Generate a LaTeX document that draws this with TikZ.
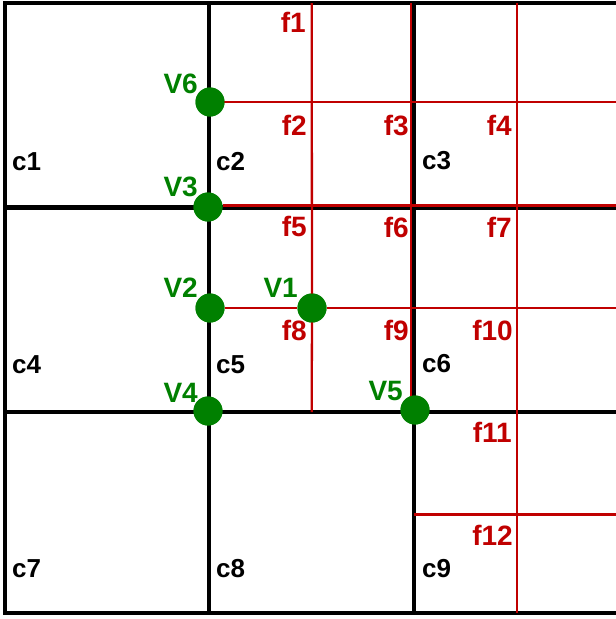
\documentclass[tikz,border=0pt]{standalone}
\usepackage{fontspec}
\setmainfont{Liberation Sans}
\definecolor{gridred}{RGB}{192,0,0}
\definecolor{dotgreen}{RGB}{0,128,0}
\begin{document}
\begin{tikzpicture}[x=1pt,y=-1pt,
  wall/.style={line width=4.5pt, draw=black},
  face/.style={line width=2.3pt, draw=gridred},
  vtx/.style={circle, fill=dotgreen, minimum size=29pt, inner sep=0pt},
  lbl/.style={inner sep=0pt, font=\fontsize{28}{32}\selectfont\bfseries},
  cl/.style={inner sep=0pt, font=\fontsize{26}{30}\selectfont\bfseries, anchor=base west, text=black},
  fl/.style={lbl, anchor=base east, text=gridred},
  vl/.style={lbl, anchor=base east, text=dotgreen}]
\useasboundingbox (0,0) rectangle (616,619);
% black cell walls
\draw[wall, line join=miter] (616,3) -- (5,3) -- (5,613) -- (616,613);
\draw[wall] (209,3) -- (209,613);
\draw[wall] (414,3) -- (414,613);
\draw[wall] (5,207.5) -- (616,207.5);
\draw[wall] (5,412) -- (616,412);
% vertices
\node[vtx] (V6) at (210,102) {};
\node[vtx] (V3) at (208,207) {};
\node[vtx] (V2) at (210,308) {};
\node[vtx] (V1) at (312,308) {};
\node[vtx] (V4) at (208,411) {};
\node[vtx] (V5) at (415,410) {};
% red faces
\draw[face] (311.7,3) -- (V1.center) -- (311.7,412);
\draw[face] (411,3) -- (411,411);
\draw[face] (517,3) -- (517,613);
\draw[face] (V6.center) -- (616,102);
\draw[face] (V3.east |- 0,205.5) -- (616,205.5);
\draw[face] (V2.east) -- (V1.west);
\draw[face] (V1.east) -- (616,308);
\draw[face] (414,514.5) -- (616,514.5);
% redraw dots on top
\foreach \v in {V6,V3,V2,V1,V4,V5} \fill[dotgreen] (\v) circle (14.5pt);
% cell labels
\node[cl] (c1) at (12,170) {c1};
\node[cl] (c2) at (216,170) {c2};
\node[cl] (c3) at (422,169) {c3};
\node[cl] (c4) at (12,373) {c4};
\node[cl] (c5) at (216,373) {c5};
\node[cl] (c6) at (422,372) {c6};
\node[cl] (c7) at (12,577) {c7};
\node[cl] (c8) at (216,577) {c8};
\node[cl] (c9) at (422,577) {c9};
% face labels
\node[fl] (f1) at (306,32) {f1};
\node[fl] (f2) at (307,135) {f2};
\node[fl] (f3) at (409,135) {f3};
\node[fl] (f4) at (512,135) {f4};
\node[fl] (f5) at (307,236) {f5};
\node[fl] (f6) at (409,237) {f6};
\node[fl] (f7) at (512,237) {f7};
\node[fl] (f8) at (307,340) {f8};
\node[fl] (f9) at (409,340) {f9};
\node[fl] (f10) at (513,340) {f10};
\node[fl] (f11) at (512,442) {f11};
\node[fl] (f12) at (513,545) {f12};
% vertex labels
\node[vl] at (198,93) {V6};
\node[vl] at (198,196) {V3};
\node[vl] at (198,297) {V2};
\node[vl] at (298,297) {V1};
\node[vl] at (198,402) {V4};
\node[vl] at (403,400) {V5};
\end{tikzpicture}
\end{document}
